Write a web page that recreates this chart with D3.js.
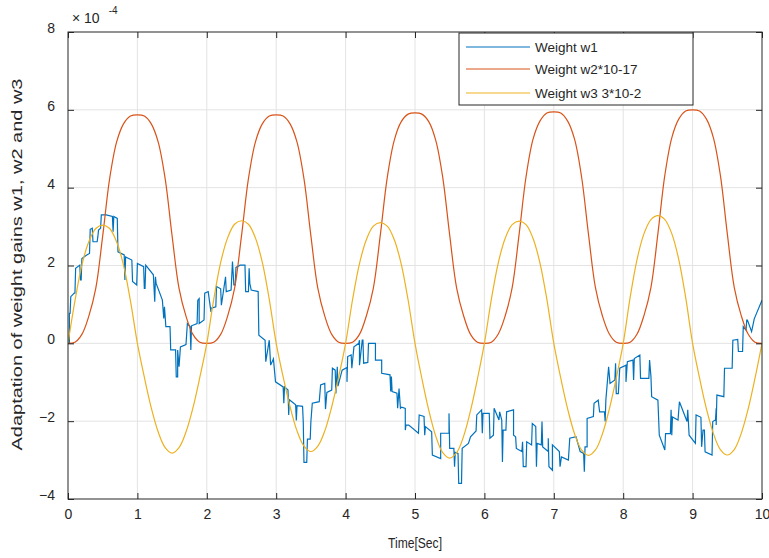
<!DOCTYPE html>
<html>
<head>
<meta charset="utf-8">
<script src="https://cdn.jsdelivr.net/npm/d3@7"></script>
<style>
  body { margin: 0; background: #fff; }
  svg { display: block; }
  text { font-family: "Liberation Sans", Arial, sans-serif; fill: #262626; }
</style>
</head>
<body>
<div id="chart"></div>
<script>
// values are in units of 1e-4
const xTicks = [0, 1, 2, 3, 4, 5, 6, 7, 8, 9, 10];
const yTicks = [-4, -2, 0, 2, 4, 6, 8];
const seriesNames = ["Weight w1", "Weight w2*10-17", "Weight w3 3*10-2"];
const seriesColors = ["#0072BD", "#D95319", "#EDB120"];

// w2 and w3 sampled every 0.1 s from t = 0 to 10
const sampleStep = 0.1;
const w2 = [
  0, 0.03, 0.23, 0.70, 1.41, 2.76, 4.23, 5.17, 5.64, 5.84, 5.87, 5.84, 5.64, 5.17, 4.23, 2.76, 1.41, 0.70, 0.23, 0.03,
  0, 0.03, 0.23, 0.70, 1.41, 2.76, 4.23, 5.17, 5.64, 5.84, 5.87, 5.84, 5.64, 5.17, 4.23, 2.76, 1.41, 0.70, 0.23, 0.03,
  0, 0.03, 0.23, 0.71, 1.42, 2.78, 4.26, 5.21, 5.69, 5.89, 5.92, 5.89, 5.69, 5.21, 4.26, 2.78, 1.42, 0.71, 0.23, 0.03,
  0, 0.03, 0.24, 0.71, 1.43, 2.80, 4.28, 5.24, 5.71, 5.92, 5.95, 5.92, 5.71, 5.24, 4.28, 2.80, 1.43, 0.71, 0.24, 0.03,
  0, 0.03, 0.24, 0.72, 1.44, 2.82, 4.32, 5.28, 5.76, 5.97, 6.00, 5.97, 5.76, 5.28, 4.32, 2.82, 1.44, 0.72, 0.24, 0.03,
  0
];
const w3 = [
  0, 1.09, 2.01, 2.61, 2.95, 3.04, 2.95, 2.61, 2.01, 1.09,
  0, -0.87, -1.66, -2.28, -2.68, -2.82, -2.68, -2.28, -1.66, -0.87,
  0, 1.13, 2.08, 2.71, 3.06, 3.15, 3.06, 2.71, 2.08, 1.13,
  0, -0.86, -1.63, -2.25, -2.64, -2.78, -2.64, -2.25, -1.63, -0.86,
  0, 1.12, 2.05, 2.67, 3.01, 3.10, 3.01, 2.67, 2.05, 1.12,
  0, -0.91, -1.73, -2.39, -2.81, -2.95, -2.81, -2.39, -1.73, -0.91,
  0, 1.13, 2.07, 2.70, 3.05, 3.14, 3.05, 2.70, 2.07, 1.13,
  0, -0.89, -1.69, -2.33, -2.74, -2.88, -2.74, -2.33, -1.69, -0.89,
  0, 1.18, 2.16, 2.82, 3.18, 3.28, 3.18, 2.82, 2.16, 1.18,
  0, -0.89, -1.69, -2.32, -2.73, -2.87, -2.73, -2.32, -1.69, -0.89,
  0
];

// w1 is a noisy staircase: [time, value]
const w1 = [
  [0,0],[0.02,0],[0.02,0.77],[0.03,0.77],[0.04,1.2],[0.09,1.29],[0.1,1.29],[0.11,1.93],[0.17,2.01],[0.18,1.63],
  [0.19,1.63],[0.2,2.18],[0.27,2.27],[0.31,2.31],[0.32,2.93],[0.35,2.96],[0.36,2.61],[0.42,2.61],[0.43,2.74],[0.44,2.91],
  [0.47,2.96],[0.48,3.3],[0.55,3.3],[0.64,3.26],[0.65,2.87],[0.66,3.26],[0.71,3.21],[0.72,2.35],[0.81,2.27],[0.82,1.63],
  [0.83,2.22],[0.92,2.14],[0.93,1.59],[0.99,1.5],[1.0,2.05],[1.09,1.97],[1.1,1.41],[1.11,1.41],[1.12,2.01],[1.23,1.76],
  [1.25,1.07],[1.26,1.71],[1.27,1.54],[1.36,1.11],[1.38,0.64],[1.39,0.94],[1.41,0.43],[1.47,0.43],[1.48,-0.17],[1.55,-0.17],
  [1.56,-0.86],[1.58,-0.86],[1.58,-0.17],[1.6,-0.6],[1.62,-0.09],[1.7,-0.03],[1.72,0.51],[1.76,0.43],[1.77,-0.17],[1.78,0.45],
  [1.86,0.51],[1.87,1.11],[1.89,1.15],[1.89,0.51],[1.96,0.6],[1.97,1.29],[2.02,1.33],[2.06,0.81],[2.06,0.9],[2.13,0.94],
  [2.14,1.46],[2.2,1.4],[2.21,0.98],[2.22,1.1],[2.27,1.71],[2.28,1.33],[2.35,1.37],[2.37,2.1],[2.39,1.5],[2.41,1.5],
  [2.42,1.95],[2.48,2.01],[2.55,2.01],[2.56,1.33],[2.6,1.33],[2.61,1.93],[2.62,1.54],[2.64,1.37],[2.74,1.33],[2.75,0.21],
  [2.84,0.08],[2.85,-0.47],[2.9,0.08],[2.92,-0.56],[2.96,-0.4],[2.99,-0.99],[3.1,-1.12],[3.11,-1.54],[3.12,-1.12],[3.17,-1.2],
  [3.18,-1.84],[3.19,-1.45],[3.28,-1.58],[3.29,-1.98],[3.3,-1.6],[3.38,-1.62],[3.39,-2.02],[3.4,-3.06],[3.44,-3.06],[3.45,-2.46],
  [3.49,-2.46],[3.5,-2.0],[3.52,-1.54],[3.62,-1.5],[3.64,-1.07],[3.7,-1.03],[3.71,-1.69],[3.73,-1.26],[3.8,-1.2],[3.81,-0.64],
  [3.85,-0.69],[3.86,-1.29],[3.88,-0.6],[3.89,-1.1],[3.95,-0.69],[4.02,-0.62],[4.02,-0.99],[4.03,-0.34],[4.08,-0.3],[4.09,-0.64],
  [4.12,-0.09],[4.19,0.0],[4.2,0.08],[4.2,-0.56],[4.24,0.08],[4.25,0.08],[4.26,-0.51],[4.32,-0.49],[4.33,0.0],[4.43,0.0],
  [4.43,-0.43],[4.52,-0.43],[4.52,-0.77],[4.64,-0.81],[4.65,-1.24],[4.66,-0.85],[4.67,-1.24],[4.74,-1.28],[4.75,-1.67],[4.77,-1.16],
  [4.79,-1.67],[4.81,-1.64],[4.86,-1.67],[4.86,-2.23],[4.87,-2.1],[4.91,-2.1],[5.05,-2.31],[5.06,-1.84],[5.13,-1.88],[5.14,-2.36],
  [5.15,-2.14],[5.24,-2.27],[5.25,-2.87],[5.37,-2.96],[5.37,-2.31],[5.49,-2.31],[5.49,-1.8],[5.5,-2.7],[5.56,-2.7],[5.57,-3.17],
  [5.58,-2.8],[5.62,-2.83],[5.63,-3.6],[5.67,-3.6],[5.68,-2.7],[5.77,-2.57],[5.8,-2.4],[5.88,-2.25],[5.89,-1.84],[5.96,-1.71],
  [5.97,-2.31],[5.98,-1.8],[6.07,-1.8],[6.08,-2.44],[6.13,-2.36],[6.14,-1.67],[6.21,-1.97],[6.22,-1.76],[6.25,-1.97],[6.26,-3.05],
  [6.27,-2.23],[6.31,-2.23],[6.32,-1.76],[6.42,-1.71],[6.42,-2.36],[6.45,-2.4],[6.46,-2.7],[6.54,-2.78],[6.55,-2.53],[6.56,-3.17],
  [6.6,-3.17],[6.61,-2.53],[6.68,-2.61],[6.69,-2.06],[6.74,-2.14],[6.75,-3.17],[6.76,-2.57],[6.82,-2.61],[6.83,-2.01],[6.84,-2.66],
  [6.92,-2.78],[6.92,-2.44],[6.93,-3.17],[6.98,-3.26],[6.98,-2.61],[7.08,-2.78],[7.09,-3.17],[7.11,-2.92],[7.21,-3.0],[7.23,-2.44],
  [7.32,-2.4],[7.38,-2.78],[7.43,-2.83],[7.44,-3.3],[7.45,-2.66],[7.48,-2.66],[7.48,-1.93],[7.57,-1.88],[7.58,-1.54],[7.64,-1.46],
  [7.66,-1.76],[7.73,-1.76],[7.74,-2.01],[7.75,-1.46],[7.79,-0.6],[7.81,-1.03],[7.88,-0.94],[7.89,-0.51],[7.9,-1.29],[7.93,-1.29],
  [7.95,-0.64],[8.04,-0.56],[8.04,-0.99],[8.06,-0.47],[8.14,-0.43],[8.15,-0.94],[8.16,-0.39],[8.24,-0.3],[8.25,-0.9],[8.37,-0.9],
  [8.38,-0.43],[8.4,-0.86],[8.41,-1.37],[8.5,-1.46],[8.52,-2.36],[8.6,-2.74],[8.61,-2.32],[8.68,-2.32],[8.69,-1.71],[8.7,-2.36],
  [8.71,-1.89],[8.79,-1.97],[8.81,-1.5],[8.92,-2.01],[8.93,-1.71],[8.95,-2.36],[9.04,-2.57],[9.05,-1.84],[9.12,-1.9],[9.13,-2.66],
  [9.15,-2.23],[9.17,-2.23],[9.18,-2.79],[9.28,-2.87],[9.29,-2.01],[9.33,-1.97],[9.34,-1.67],[9.34,-2.1],[9.35,-1.33],[9.45,-1.37],
  [9.46,-0.64],[9.57,-0.64],[9.58,0.08],[9.65,0.1],[9.66,-0.21],[9.72,-0.21],[9.73,0.43],[9.77,0.34],[9.78,0.6],[9.79,0.6],
  [9.85,0.3],[9.89,0.64],[9.9,0.68],[10,1.11]
];

const Margin = {TOP: 32, BOTTOM: 59, LEFT: 68, RIGHT: 7};
const Width = 769 - Margin.LEFT - Margin.RIGHT;
const Height = 558 - Margin.TOP - Margin.BOTTOM;
const axisColor = "#262626";

const svg = d3.select("#chart")
  .append("svg")
    .attr("width", 769)
    .attr("height", 558)
  .append("g")
    .attr("transform", `translate(${Margin.LEFT}, ${Margin.TOP})`);

const x = d3.scaleLinear().domain([0, 10]).range([0, Width]);
const y = d3.scaleLinear().domain([-4, 8]).range([Height, 0]);

// grid
svg.append("g").selectAll("line.gx")
  .data(xTicks.slice(1, -1))
  .enter().append("line")
    .attr("x1", d => x(d)).attr("x2", d => x(d))
    .attr("y1", 0).attr("y2", Height)
    .attr("stroke", "#e3e3e3");
svg.append("g").selectAll("line.gy")
  .data(yTicks.slice(1, -1))
  .enter().append("line")
    .attr("x1", 0).attr("x2", Width)
    .attr("y1", d => y(d)).attr("y2", d => y(d))
    .attr("stroke", "#e3e3e3");

svg.append("clipPath").attr("id", "clip")
  .append("rect").attr("width", Width).attr("height", Height);

const plot = svg.append("g").attr("clip-path", "url(#clip)");

const stairLine = d3.line().x(d => x(d[0])).y(d => y(d[1]));
const smoothLine = d3.line()
  .x((d, i) => x(i * sampleStep))
  .y(d => y(d))
  .curve(d3.curveCatmullRom);

plot.append("path").datum(w1)
  .attr("d", stairLine)
  .attr("fill", "none").attr("stroke", seriesColors[0]).attr("stroke-width", 1.2);
plot.append("path").datum(w2)
  .attr("d", smoothLine)
  .attr("fill", "none").attr("stroke", seriesColors[1]).attr("stroke-width", 1.2);
plot.append("path").datum(w3)
  .attr("d", smoothLine)
  .attr("fill", "none").attr("stroke", seriesColors[2]).attr("stroke-width", 1.2);

// axes (ticks point inward, box on all sides)
const styleAxis = g => {
  g.select(".domain").remove();
  g.selectAll("line").attr("stroke", axisColor);
  g.selectAll("text").attr("fill", axisColor).style("font-size", "14px");
};

svg.append("g")
  .attr("transform", `translate(0, ${Height})`)
  .call(d3.axisBottom(x).tickValues(xTicks).tickSize(-6).tickPadding(10))
  .call(styleAxis);
svg.append("g")
  .call(d3.axisTop(x).tickValues(xTicks).tickSize(-6).tickFormat(""))
  .call(styleAxis);
svg.append("g")
  .call(d3.axisLeft(y).tickValues(yTicks).tickSize(-6).tickPadding(13))
  .call(styleAxis)
  .selectAll("text").attr("dy", "0.04em");
svg.append("g")
  .attr("transform", `translate(${Width}, 0)`)
  .call(d3.axisRight(y).tickValues(yTicks).tickSize(-6).tickFormat(""))
  .call(styleAxis);

svg.append("rect")
  .attr("width", Width).attr("height", Height)
  .attr("fill", "none").attr("stroke", axisColor).attr("stroke-width", 1);

// exponent label
const expo = svg.append("text").attr("x", 4).attr("y", -9).style("font-size", "14px");
expo.append("tspan").text("\u00d7 10");
expo.append("tspan").attr("dx", 9).attr("dy", -9).style("font-size", "10px").text("-4");

// axis titles
svg.append("text")
  .attr("x", Width / 2 - 27)
  .attr("y", Height + 49)
  .attr("textLength", 54)
  .attr("lengthAdjust", "spacingAndGlyphs")
  .style("font-size", "14px")
  .text("Time[Sec]");

svg.append("text")
  .attr("transform", `translate(${-46}, ${y(2) - 1}) rotate(-90)`)
  .attr("text-anchor", "middle")
  .attr("textLength", 372)
  .attr("lengthAdjust", "spacingAndGlyphs")
  .style("font-size", "14px")
  .text("Adaptation of weight gains w1, w2 and w3");

// legend
const legend = svg.append("g").attr("transform", `translate(${459 - Margin.LEFT}, ${33 - Margin.TOP})`);
legend.append("rect")
  .attr("width", 234).attr("height", 72)
  .attr("fill", "#fff").attr("stroke", axisColor).attr("stroke-width", 1);
const rowY = [14, 36, 60];
seriesNames.forEach((name, i) => {
  legend.append("line")
    .attr("x1", 7).attr("x2", 71)
    .attr("y1", rowY[i]).attr("y2", rowY[i])
    .attr("stroke", seriesColors[i]).attr("stroke-width", 1.2);
  legend.append("text")
    .attr("x", 76).attr("y", rowY[i]).attr("dy", "0.35em")
    .style("font-size", "13.5px")
    .text(name);
});
</script>
</body>
</html>
